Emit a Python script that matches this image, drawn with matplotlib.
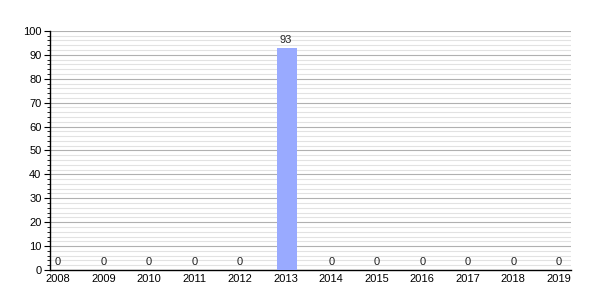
import matplotlib
matplotlib.use("Agg")
import matplotlib.pyplot as plt
from matplotlib.ticker import MultipleLocator

years = [2008, 2009, 2010, 2011, 2012, 2013, 2014, 2015, 2016, 2017, 2018, 2019]
values = [0, 0, 0, 0, 0, 93, 0, 0, 0, 0, 0, 0]

plt.rcParams['font.family'] = ['Liberation Sans', 'DejaVu Sans']
fig = plt.figure(figsize=(6, 3), dpi=100)
ax = fig.add_axes([0.083, 0.1, 0.869, 0.797])

ax.bar([y + 0.02 for y in years], values, width=0.44, color='#99aaff', zorder=3)
for x, v in zip(years, values):
    ax.text(x, v + 1.3, str(v), ha='center', va='bottom', fontsize=8, color='#222222', zorder=4)

ax.set_ylim(0, 100)
ax.set_xlim(2008 - 0.18, 2019 + 0.27)
ax.yaxis.set_major_locator(MultipleLocator(10))
ax.yaxis.set_minor_locator(MultipleLocator(2))
ax.set_xticks(years)
ax.set_xticklabels([str(y) for y in years])
ax.grid(axis='y', which='major', color='#b0b0b0', linewidth=0.8, zorder=0)
ax.grid(axis='y', which='minor', color='#e2e2e2', linewidth=0.8, zorder=0)
for s in ['top', 'right']:
    ax.spines[s].set_visible(False)
ax.spines['left'].set_linewidth(1.0)
ax.spines['bottom'].set_linewidth(1.0)
ax.tick_params(axis='y', which='major', length=4, labelsize=8, pad=2)
ax.tick_params(axis='y', which='minor', length=2)
ax.tick_params(axis='x', length=0, labelsize=8, pad=3)

fig.savefig('out.png', dpi=100)
